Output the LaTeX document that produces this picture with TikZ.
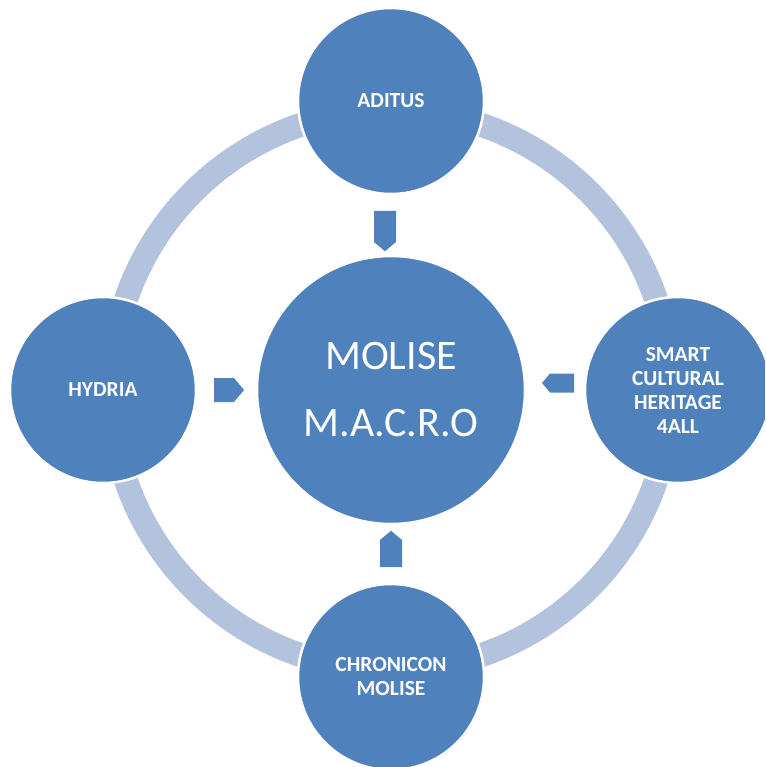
\documentclass[tikz,border=0pt]{standalone}
\usepackage{fontspec}
\setmainfont{Carlito}
\usetikzlibrary{shapes.symbols, positioning}
\definecolor{macroblue}{HTML}{4F81BD}
\definecolor{ringblue}{HTML}{B3C3DD}

\begin{document}
\begin{tikzpicture}[
    x=1pt, y=-1pt,
    every node/.style={text=white, align=center},
    project/.style={circle, fill=macroblue, draw=white, line width=2.5pt, minimum size=186pt, inner sep=0pt, font=\fontsize{21.5}{24}\selectfont\bfseries},
    hub/.style={circle, fill=macroblue, draw=white, line width=2.5pt, minimum size=268pt, inner sep=0pt, font=\fontsize{42}{67}\selectfont},
    flow/.style={signal, fill=macroblue, draw=none, inner sep=0pt, signal pointer angle=100}
]
\useasboundingbox (0,0) rectangle (765,767);
\clip (0,0) rectangle (765,767);

% Ring behind the projects
\draw[ringblue, line width=24pt] (391,390) circle (280);

% Central programme
\node[hub] (macro) at (391,390) {MOLISE\\M.A.C.R.O};

% Projects
\node[project] (aditus) at (391,101) {ADITUS};
\node[project] (hydria) at (103,390) {HYDRIA};
\node[project] (smart) at (678,390) {SMART\\CULTURAL\\HERITAGE\\4ALL};
\node[project] (chronicon) at (391,677) {CHRONICON\\MOLISE};

% Flows into the hub
\node[flow, signal to=south, minimum width=22pt, minimum height=31pt] (fa) at (385,226.5) {};
\node[flow, signal to=east, minimum width=30pt, minimum height=24pt] (fh) at (224,390) {};
\node[flow, signal to=west, minimum width=32pt, minimum height=19pt] (fs) at (562,383) {};
\node[flow, signal to=north, minimum width=22pt, minimum height=27pt] (fc) at (391,553.5) {};

\end{tikzpicture}
\end{document}
